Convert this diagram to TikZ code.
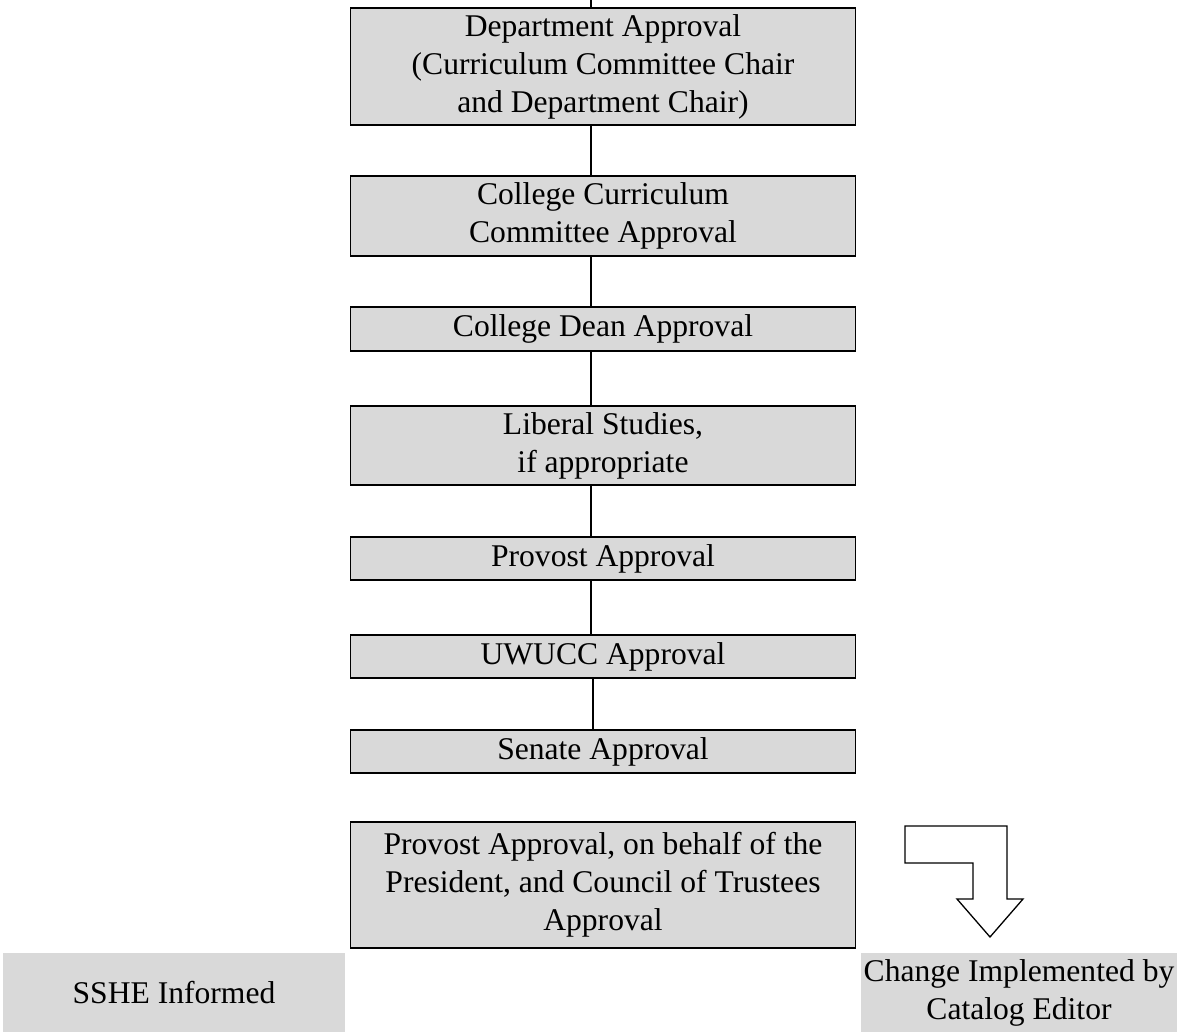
\documentclass[tikz,border=0pt]{standalone}
\usepackage{fontspec}
\setmainfont{Liberation Serif}
\definecolor{boxgray}{RGB}{217,217,217}
\tikzset{
  flowbox/.style={draw=black, line width=1.6pt, fill=boxgray, minimum width=505pt,
    inner sep=0pt, align=center, font=\fontsize{31.6}{38}\selectfont},
  infobox/.style={fill=boxgray, inner sep=0pt, align=center, font=\fontsize{31.6}{38}\selectfont},
  conn/.style={line width=1.4pt, draw=black},
  bentarrow/.style={draw=black, line width=1.3pt, fill=white, line join=miter}
}
\begin{document}
\begin{tikzpicture}[x=1pt, y=-1pt]
\useasboundingbox (0,0) rectangle (1177,1032);
\node[flowbox, minimum height=117pt] (dept) at (603,66.5) {Department Approval\\(Curriculum Committee Chair\\and Department Chair)};
\node[flowbox, minimum height=80pt] (ccc) at (603,216) {College Curriculum\\Committee Approval};
\node[flowbox, minimum height=44pt] (dean) at (603,329) {College Dean Approval};
\node[flowbox, minimum height=79pt] (lib) at (603,445.5) {Liberal Studies,\\if appropriate};
\node[flowbox, minimum height=43pt] (prov) at (603,558.5) {Provost Approval};
\node[flowbox, minimum height=43pt] (uwucc) at (603,656.5) {UWUCC Approval};
\node[flowbox, minimum height=43pt] (senate) at (603,751.5) {Senate Approval};
\node[flowbox, minimum height=126pt] (pres) at (603,885) {Provost Approval, on behalf of the\\President, and Council of Trustees\\Approval};
\node[infobox, minimum width=342pt, minimum height=79pt] (sshe) at (174,992.5) {SSHE Informed};
\node[infobox, minimum width=316pt, minimum height=79pt] (change) at (1019,992.5) {Change Implemented by\\Catalog Editor};
\coordinate (topend) at (591,0);
\draw[conn] (topend) -- ([xshift=-12pt]dept.north);
\draw[conn] ([xshift=-12pt]dept.south) -- ([xshift=-12pt]ccc.north);
\draw[conn] ([xshift=-12pt]ccc.south) -- ([xshift=-12pt]dean.north);
\draw[conn] ([xshift=-12pt]dean.south) -- ([xshift=-12pt]lib.north);
\draw[conn] ([xshift=-12pt]lib.south) -- ([xshift=-12pt]prov.north);
\draw[conn] ([xshift=-12pt]prov.south) -- ([xshift=-12pt]uwucc.north);
\draw[conn] ([xshift=-10pt]uwucc.south) -- ([xshift=-10pt]senate.north);
\draw[bentarrow] (905,826) -- (1007,826) -- (1007,899) -- (1023,899) -- (990,937) -- (957,899) -- (973,899) -- (973,863) -- (905,863) -- cycle;
\end{tikzpicture}
\end{document}
